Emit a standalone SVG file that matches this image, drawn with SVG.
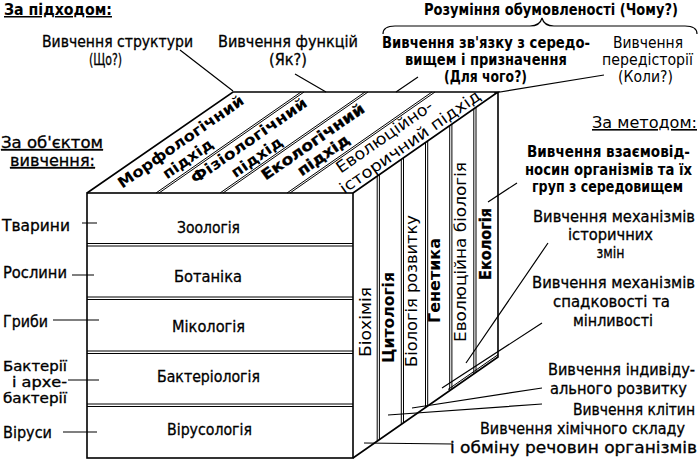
<svg xmlns="http://www.w3.org/2000/svg" width="699" height="461" viewBox="0 0 699 461">
<style>
text{font-family:"DejaVu Sans Condensed","Liberation Sans",sans-serif;fill:#000;font-size:16px}
.b{font-weight:bold;font-size:15px}
.m{text-anchor:middle}
.u{text-decoration:underline}
.md{stroke:#000;stroke-width:0.3}
.sm{font-size:15px}
.xs{font-size:13.5px}
.ln{stroke:#000;stroke-width:1.2;fill:none}
.ed{stroke:#000;stroke-width:1.6;fill:none}
.dl{stroke:#000;stroke-width:1;fill:none}
</style>
<rect width="699" height="461" fill="#fff"/>

<g id="cube">
  <rect class="ed" x="87" y="193" width="266" height="265" fill="#fff"/>
  <path class="ed" d="M87 193 L233 92 L498 92 L353 193 M498 92 L498 357 L353 458"/>
  <path class="dl" d="M87 243.5H353M87 246H353M87 297H353M87 299.5H353M87 351H353M87 353.5H353M87 404H353M87 406.5H353"/>
  <path class="dl" d="M156 193L301 92M159 193L304 92M220 193L365 92M223 193L368 92M287 193L432 92M290 193L435 92"/>
  <path class="dl" d="M377.2 176.1V441.1M379.4 174.6V439.6M401.3 159.3V424.3M403.5 157.8V422.8M425.5 142.5V407.5M427.7 141V406M449.7 125.6V390.6M451.9 124.1V389.1M473.8 108.8V373.8M476 107.3V372.3M448 389.5L498 354.7"/>
</g>

<g id="top-labels">
  <g transform="translate(121.5,193) rotate(-34.9)">
    <text class="b m" x="78" y="-3" textLength="150" lengthAdjust="spacingAndGlyphs">Морфологічний</text>
    <text class="b m" x="74" y="15" textLength="58" lengthAdjust="spacingAndGlyphs">підхід</text>
  </g>
  <g transform="translate(188,193) rotate(-34.9)">
    <text class="b m" x="80" y="-3" textLength="138" lengthAdjust="spacingAndGlyphs">Фізіологічний</text>
    <text class="b m" x="77" y="15" textLength="59" lengthAdjust="spacingAndGlyphs">підхід</text>
  </g>
  <g transform="translate(253.5,193) rotate(-34.9)">
    <text class="b m md" x="78" y="-3" textLength="122" lengthAdjust="spacingAndGlyphs">Екологічний</text>
    <text class="b m md" x="79" y="14" textLength="60" lengthAdjust="spacingAndGlyphs">підхід</text>
  </g>
  <g transform="translate(320,193) rotate(-34.9)">
    <text class="m" x="85" y="-4" textLength="114" lengthAdjust="spacingAndGlyphs">Еволюційно-</text>
    <text class="m" x="103" y="15" textLength="168" lengthAdjust="spacingAndGlyphs">історичний підхід</text>
  </g>
</g>

<g id="side-labels">
  <text class="m" transform="translate(364.5,322) rotate(-90)" y="6" textLength="70" lengthAdjust="spacingAndGlyphs">Біохімія</text>
  <text class="b m" transform="translate(387.5,317.5) rotate(-90)" y="6" textLength="91" lengthAdjust="spacingAndGlyphs">Цитологія</text>
  <text class="m" transform="translate(410.5,291) rotate(-90)" y="6" textLength="152" lengthAdjust="spacingAndGlyphs">Біологія розвитку</text>
  <text class="b m" transform="translate(434,280.5) rotate(-90)" y="6" textLength="85" lengthAdjust="spacingAndGlyphs">Генетика</text>
  <text class="m" transform="translate(460,252) rotate(-90)" y="6" textLength="180" lengthAdjust="spacingAndGlyphs">Еволюційна біологія</text>
  <text class="b m md" transform="translate(485,244) rotate(-90)" y="6" textLength="72" lengthAdjust="spacingAndGlyphs">Екологія</text>
</g>

<g id="front-labels">
  <text class="m md" x="208.5" y="233" textLength="63" lengthAdjust="spacingAndGlyphs">Зоологія</text>
  <text class="m md" x="208" y="282" textLength="68" lengthAdjust="spacingAndGlyphs">Ботаніка</text>
  <text class="m md" x="208.5" y="332" textLength="73" lengthAdjust="spacingAndGlyphs">Мікологія</text>
  <text class="m md" x="208.5" y="382" textLength="103" lengthAdjust="spacingAndGlyphs">Бактеріологія</text>
  <text class="m md" x="209.5" y="435" textLength="85" lengthAdjust="spacingAndGlyphs">Вірусологія</text>
</g>

<g id="headings">
  <text class="b u" x="4" y="15" textLength="108" lengthAdjust="spacingAndGlyphs">За підходом:</text>
  <text class="u md" x="1" y="148" textLength="102" lengthAdjust="spacingAndGlyphs">За об'єктом</text>
  <text class="u md" x="10" y="166" textLength="85" lengthAdjust="spacingAndGlyphs">вивчення:</text>
  <text class="u" x="592" y="128" textLength="105" lengthAdjust="spacingAndGlyphs">За методом:</text>
</g>

<g id="objects">
  <text class="md" x="2" y="231" textLength="68" lengthAdjust="spacingAndGlyphs">Тварини</text>
  <text class="md" x="3" y="278" textLength="64" lengthAdjust="spacingAndGlyphs">Рослини</text>
  <text class="md" x="3" y="327" textLength="45" lengthAdjust="spacingAndGlyphs">Гриби</text>
  <text class="md xs" x="3" y="371" textLength="64" lengthAdjust="spacingAndGlyphs">Бактерії</text>
  <text class="md xs" x="12" y="387" textLength="55" lengthAdjust="spacingAndGlyphs">і архе-</text>
  <text class="md xs" x="3" y="403" textLength="64" lengthAdjust="spacingAndGlyphs">бактерії</text>
  <text class="md" x="3" y="438" textLength="49" lengthAdjust="spacingAndGlyphs">Віруси</text>
</g>

<g id="approaches">
  <text class="m md" x="117.5" y="47" textLength="151" lengthAdjust="spacingAndGlyphs">Вивчення структури</text>
  <text class="m md" x="105.5" y="65" textLength="33" lengthAdjust="spacingAndGlyphs">(Що?)</text>
  <text class="m md" x="288" y="47" textLength="140" lengthAdjust="spacingAndGlyphs">Вивчення функцій</text>
  <text class="m md" x="288" y="65" textLength="38" lengthAdjust="spacingAndGlyphs">(Як?)</text>
  <text class="b m" x="551" y="15" textLength="254" lengthAdjust="spacingAndGlyphs">Розуміння обумовленості (Чому?)</text>
  <text class="b m" x="486" y="48" textLength="208" lengthAdjust="spacingAndGlyphs">Вивчення зв'язку з середо-</text>
  <text class="b m" x="486" y="65" textLength="162" lengthAdjust="spacingAndGlyphs">вищем і призначення</text>
  <text class="b m" x="485.5" y="82" textLength="83" lengthAdjust="spacingAndGlyphs">(Для чого?)</text>
  <text class="m sm" x="648" y="48" textLength="70" lengthAdjust="spacingAndGlyphs">Вивчення</text>
  <text class="m sm" x="647.5" y="65" textLength="91" lengthAdjust="spacingAndGlyphs">передісторії</text>
  <text class="m sm" x="645.5" y="82" textLength="55" lengthAdjust="spacingAndGlyphs">(Коли?)</text>
  <path class="ln" d="M383 34 Q383 26 395 26 L530 26 Q540 26 542 18 Q544 26 554 26 L685 26 Q697 26 697 34"/>
</g>

<g id="methods">
  <text class="b m" x="608.5" y="157" textLength="163" lengthAdjust="spacingAndGlyphs">Вивчення взаємовід-</text>
  <text class="b m" x="608.5" y="175" textLength="167" lengthAdjust="spacingAndGlyphs">носин організмів та їх</text>
  <text class="b m" x="607.5" y="192" textLength="151" lengthAdjust="spacingAndGlyphs">груп з середовищем</text>
  <text class="m md" x="614" y="222" textLength="162" lengthAdjust="spacingAndGlyphs">Вивчення механізмів</text>
  <text class="m md" x="610.5" y="240" textLength="85" lengthAdjust="spacingAndGlyphs">історичних</text>
  <text class="m md" x="610.5" y="258" textLength="28" lengthAdjust="spacingAndGlyphs">змін</text>
  <text class="m md" x="613.5" y="288" textLength="163" lengthAdjust="spacingAndGlyphs">Вивчення механізмів</text>
  <text class="m md" x="611.5" y="307" textLength="117" lengthAdjust="spacingAndGlyphs">спадковості та</text>
  <text class="m md" x="613" y="326" textLength="80" lengthAdjust="spacingAndGlyphs">мінливості</text>
  <text class="m md" x="621.5" y="375" textLength="147" lengthAdjust="spacingAndGlyphs">Вивчення індивіду-</text>
  <text class="m md" x="618.5" y="394" textLength="137" lengthAdjust="spacingAndGlyphs">ального розвитку</text>
  <text class="m md" x="634" y="415" textLength="122" lengthAdjust="spacingAndGlyphs">Вивчення клітин</text>
  <text class="m md" x="582.5" y="434" textLength="205" lengthAdjust="spacingAndGlyphs">Вивчення хімічного складу</text>
  <text class="m md" x="573.5" y="453" textLength="247" lengthAdjust="spacingAndGlyphs">і обміну речовин організмів</text>
</g>

<g id="connectors">
  <path class="ln" d="M180 50L233 91M295 74L326 92M418 77L396 92M604 75L494 93M517 183L488 202M548 243L466 363M542 323L442 388M542 388L412 408M542 404L388 415M453 444L364 443"/>
  <path class="ln" d="M82 223H97M72 275H94M53 320H99M68 380H99M63 432H97"/>
</g>
</svg>
